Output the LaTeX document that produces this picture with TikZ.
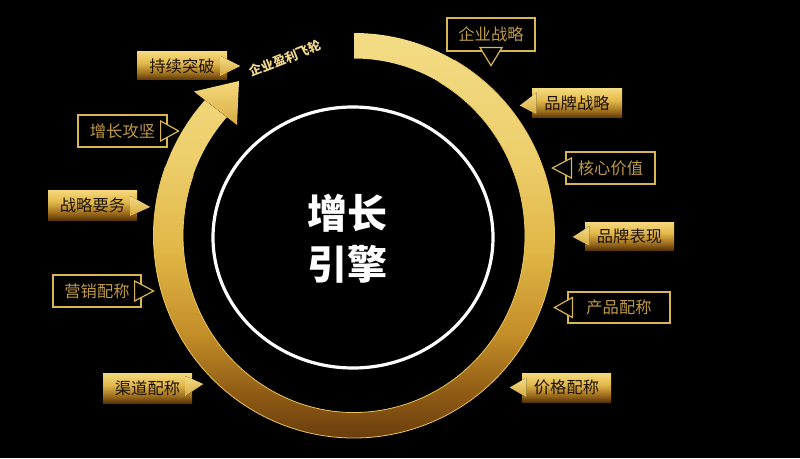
\documentclass[tikz,border=0pt]{standalone}
\usepackage{fontspec}
\newfontfamily\cjk{Noto Sans CJK SC}
\usetikzlibrary{calc}
\definecolor{ringA}{HTML}{6A3E0C}
\definecolor{ringB}{HTML}{8C5814}
\definecolor{ringC}{HTML}{C48E28}
\definecolor{ringD}{HTML}{E0B646}
\definecolor{ringE}{HTML}{EDCF6C}
\definecolor{ringF}{HTML}{F3DC86}
\definecolor{gbA}{HTML}{583408}
\definecolor{gbB}{HTML}{9E6E1E}
\definecolor{gbC}{HTML}{E2B84A}
\definecolor{gbD}{HTML}{F5D97C}
\definecolor{gline}{HTML}{D9B650}
\definecolor{gtxt}{HTML}{BF9A42}
\definecolor{gdark}{HTML}{1C1106}
\definecolor{edge}{HTML}{EAC55A}
\definecolor{arc}{HTML}{F2D888}
\pgfdeclareverticalshading{ringshade}{100bp}{color(0bp)=(ringA); color(25bp)=(ringA); color(30bp)=(ringB); color(38bp)=(ringC); color(48bp)=(ringD); color(60bp)=(ringE); color(75bp)=(ringF); color(100bp)=(ringF)}
\pgfdeclareverticalshading{goldshade}{100bp}{color(0bp)=(gbA); color(25bp)=(gbA); color(37bp)=(gbB); color(55bp)=(gbC); color(75bp)=(gbD); color(100bp)=(gbD)}
\tikzset{
  lbl/.style={font=\cjk\fontsize{12.2}{14}\selectfont, inner sep=0pt},
  gbox/.style={lbl, shading=goldshade, text=gdark, minimum width={89*0.75pt}, minimum height={29*0.75pt}},
  obox/.style={lbl, draw=gline, line width=0.9pt, fill=black, text=gtxt, minimum width={89*0.75pt}, minimum height={32*0.75pt}},
  gtri/.style={top color=gbD!95!white, bottom color=gbC!80!gbB},
  otri/.style={draw=gline, line width=0.9pt, fill=black, line join=miter},
  edgeline/.style={draw=edge, line width=0.6pt},
}
\begin{document}
\begin{tikzpicture}[x=0.75pt,y=0.75pt]
\fill[black] (0,0) rectangle (800,458);
\useasboundingbox (0,0) rectangle (800,458);
\coordinate (C) at (354,222.5);
% gold ring
\fill[shading=ringshade] ([shift={(C)}]90:200.5 and 202.5) arc[start angle=90, end angle=-222, x radius=200.5, y radius=202.5]
  -- ([shift={(C)}]138:171 and 177) arc[start angle=138, end angle=450, x radius=171, y radius=177] -- cycle;
\draw[edgeline] ([shift={(C)}]60:200.5 and 202.5) arc[start angle=60, end angle=-200, x radius=200.5, y radius=202.5];
\draw[edgeline] ([shift={(C)}]60:171 and 177) arc[start angle=60, end angle=-200, x radius=171, y radius=177];
% arrow head
\coordinate (wl) at (194,366.5);
\coordinate (wr) at (237,333);
\coordinate (tip) at (239,377);
\fill[top color=gbD, bottom color=gbC!85!gbB] (wl) -- (tip) -- (wr) -- cycle;
% text in the gap of the ring
\node[font=\cjk\bfseries\fontsize{9.5}{10}\selectfont, text=arc, inner sep=0pt, rotate=21.3] (flywheel) at ([shift={(C)}]111.3:189 and 190) {企业盈利飞轮};
% inner white circle
\draw[white, line width=2.4pt] (353,220.5) ellipse[x radius=140, y radius=130.5];
\node[font=\cjk\bfseries\fontsize{30}{38}\selectfont, text=white, align=center, inner sep=0pt] (title) at (347,219.5) {增长\\引擎};
% right side labels
\node[obox, minimum width={88*0.75pt}, minimum height={33*0.75pt}] (qyzl) at (491,423.5) {企业战略};
\draw[otri] ($(qyzl.south)+(-11,4)$) -- ($(qyzl.south)+(11,4)$) -- ($(qyzl.south)+(0,-14)$) -- cycle;
\node[gbox, minimum width={90*0.75pt}] (ppzl) at (577,354.5) {品牌战略};
\fill[gtri] ($(ppzl.west)+(5,11)$) -- ($(ppzl.west)+(-12,-2)$) -- ($(ppzl.west)+(5,-11)$) -- cycle;
\node[obox] (hxjz) at (610.5,290) {核心价值};
\draw[otri] ($(hxjz.west)+(6,10)$) -- ($(hxjz.west)+(-13,0)$) -- ($(hxjz.west)+(6,-10)$) -- cycle;
\node[gbox, minimum height={28*0.75pt}] (ppbx) at (629.5,222) {品牌表现};
\fill[gtri] ($(ppbx.west)+(5,10)$) -- ($(ppbx.west)+(-12,-1)$) -- ($(ppbx.west)+(5,-10)$) -- cycle;
\node[obox, minimum width={102*0.75pt}, minimum height={31*0.75pt}] (cppc) at (619,150.5) {产品配称};
\draw[otri] ($(cppc.west)+(5,10)$) -- ($(cppc.west)+(-13,0)$) -- ($(cppc.west)+(5,-10)$) -- cycle;
\node[gbox] (jgpc) at (566.5,70.5) {价格配称};
\fill[gtri] ($(jgpc.west)+(5,10)$) -- ($(jgpc.west)+(-12,0)$) -- ($(jgpc.west)+(5,-10)$) -- cycle;
% left side labels
\node[gbox, minimum width={90*0.75pt}, minimum height={28*0.75pt}] (cxtp) at (182,392) {持续突破};
\fill[gtri] ($(cxtp.east)+(-7,10)$) -- ($(cxtp.east)+(13,0)$) -- ($(cxtp.east)+(-7,-10)$) -- cycle;
\node[obox] (zzgj) at (122.5,327) {增长攻坚};
\draw[otri] ($(zzgj.east)+(-7,10)$) -- ($(zzgj.east)+(11,0)$) -- ($(zzgj.east)+(-7,-10)$) -- cycle;
\node[gbox, minimum height={30*0.75pt}] (zlyw) at (92.5,253) {战略要务};
\fill[gtri] ($(zlyw.east)+(-7,9)$) -- ($(zlyw.east)+(13,-2)$) -- ($(zlyw.east)+(-7,-11)$) -- cycle;
\node[obox, minimum width={88*0.75pt}] (yxpc) at (97,167) {营销配称};
\draw[otri] ($(yxpc.east)+(-7,10)$) -- ($(yxpc.east)+(12,0)$) -- ($(yxpc.east)+(-7,-10)$) -- cycle;
\node[gbox, minimum height={30*0.75pt}] (qdpc) at (147.5,70) {渠道配称};
\fill[gtri] ($(qdpc.east)+(-7,12)$) -- ($(qdpc.east)+(11,4)$) -- ($(qdpc.east)+(-7,-8)$) -- cycle;
\end{tikzpicture}
\end{document}
